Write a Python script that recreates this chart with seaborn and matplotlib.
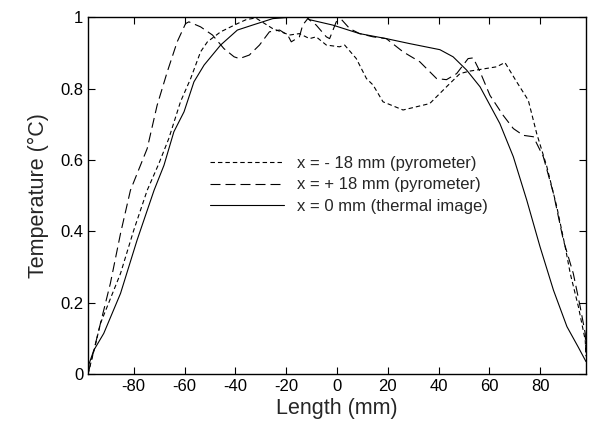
import seaborn as sns
import matplotlib.pyplot as plt

# x = -18 mm (pyrometer), short dashes
x_m18 = [-98, -95.5, -93.1, -85.2, -80, -74.7, -70.1, -66.2, -61.6, -57.6, -53.7, -51, -45.8,
         -39.2, -35.8, -32, -25.3, -18.7, -14.8, -10.8, -8.2, -4.2, 1, 3, 7.6, 11.6, 14.2,
         18.1, 26, 36.5, 43.1, 48.4, 52.3, 62.8, 66.1, 70.7, 75.3, 78.6, 82.6, 86.5, 89.8,
         91.8, 95, 97.7, 98]
t_m18 = [0.0, 0.07, 0.142, 0.282, 0.403, 0.515, 0.59, 0.66, 0.763, 0.828, 0.903, 0.931, 0.959,
         0.982, 0.993, 0.998, 0.968, 0.95, 0.954, 0.94, 0.945, 0.922, 0.917, 0.922, 0.884, 0.828, 0.81,
         0.763, 0.74, 0.758, 0.805, 0.842, 0.849, 0.861, 0.873, 0.819, 0.767, 0.674, 0.581, 0.469, 0.357,
         0.282, 0.189, 0.095, 0.05]

# x = +18 mm (pyrometer), long dashes
x_p18 = [-98, -93.1, -89.2, -85.2, -81.3, -74.7, -70.8, -66.8, -62.9, -59.6, -58.3, -53.7, -49,
         -44.5, -40.5, -38.4, -34.5, -30.5, -26.6, -22.6, -19.4, -18, -14.8, -13.5, -11.5, -8.2,
         -4.2, -2.9, -0.3, 1.7, 5, 8.9, 14.2, 19.4, 26, 32.6, 39.2, 43.1, 47.1, 51.6, 53.6, 56.3,
         60.2, 65.4, 69.4, 73.3, 77.3, 81.2, 85.2, 89.1, 93, 95.7, 97.7, 98]
t_p18 = [0.0, 0.142, 0.254, 0.394, 0.515, 0.632, 0.753, 0.847, 0.931, 0.982, 0.987, 0.973, 0.95,
         0.912, 0.889, 0.884, 0.894, 0.922, 0.959, 0.964, 0.95, 0.931, 0.945, 0.978, 0.996, 0.978,
         0.945, 0.94, 0.987, 0.994, 0.968, 0.954, 0.945, 0.94, 0.903, 0.875, 0.828, 0.825, 0.842, 0.884, 0.886, 0.847,
         0.781, 0.725, 0.688, 0.669, 0.665, 0.609, 0.506, 0.375, 0.282, 0.189, 0.114, 0.06]

# x = 0 mm (thermal image), solid
x_0 = [-98, -95.7, -91.8, -85.2, -78.7, -72, -68.1, -64.2, -60.2, -56.3, -52.3, -45.8, -39.2,
       -33.2, -25.3, -18, -12, -10.8, -1.7, 8.9, 19.4, 28.6, 40.5, 45.7, 51, 56.3, 64.1, 69.4,
       74.7, 79.9, 85.2, 90.5, 95, 98]
t_0 = [0.02, 0.067, 0.114, 0.226, 0.375, 0.515, 0.585, 0.679, 0.735, 0.819, 0.866, 0.922, 0.964,
       0.978, 0.996, 1.0, 1.0, 0.993, 0.978, 0.954, 0.940, 0.926, 0.909, 0.889, 0.852, 0.805, 0.702, 0.609,
       0.487, 0.357, 0.235, 0.133, 0.075, 0.035]

x_ticks = [-80, -60, -40, -20, 0, 20, 40, 60, 80]
y_ticks = [0, 0.2, 0.4, 0.6, 0.8, 1]
y_ticklabels = ["0", "0.2", "0.4", "0.6", "0.8", "1"]

sns.set_style("ticks")
plt.rcParams["font.family"] = ["Liberation Sans", "DejaVu Sans"]
plt.rcParams["axes.unicode_minus"] = False  # plain hyphen in tick labels

fig = plt.figure(figsize=(5.89, 4.30), dpi=100)
ax = fig.add_axes([0.1494, 0.130, 0.8455, 0.830])

lw = 0.8
sns.lineplot(x=x_m18, y=t_m18, ax=ax, color="black", lw=lw, sort=False, estimator=None,
             linestyle=(0, (4, 2.7)), label="x = - 18 mm (pyrometer)")
sns.lineplot(x=x_p18, y=t_p18, ax=ax, color="black", lw=lw, sort=False, estimator=None,
             linestyle=(0, (9, 4.5)), label="x = + 18 mm (pyrometer)")
sns.lineplot(x=x_0, y=t_0, ax=ax, color="black", lw=lw, sort=False, estimator=None,
             linestyle="-", label="x = 0 mm (thermal image)")

ax.set_xlim(-98, 98)
ax.set_ylim(0, 1)
ax.set_xticks(x_ticks)
ax.set_yticks(y_ticks)
ax.set_yticklabels(y_ticklabels)
ax.tick_params(direction="in", length=5, width=0.8, top=True, right=True,
               labelsize=12, colors="black")
for sp in ax.spines.values():
    sp.set_linewidth(1.0)
    sp.set_color("black")

ax.set_xlabel("Length (mm)", fontsize=15.5, labelpad=3)
ax.set_ylabel("Temperature (°C)", fontsize=15.5, labelpad=8)

ax.legend(loc="upper left", bbox_to_anchor=(0.215, 0.654), frameon=False,
          handlelength=4.45, handletextpad=0.78, fontsize=12, labelspacing=0.4)

plt.savefig("out.png", dpi=100)
